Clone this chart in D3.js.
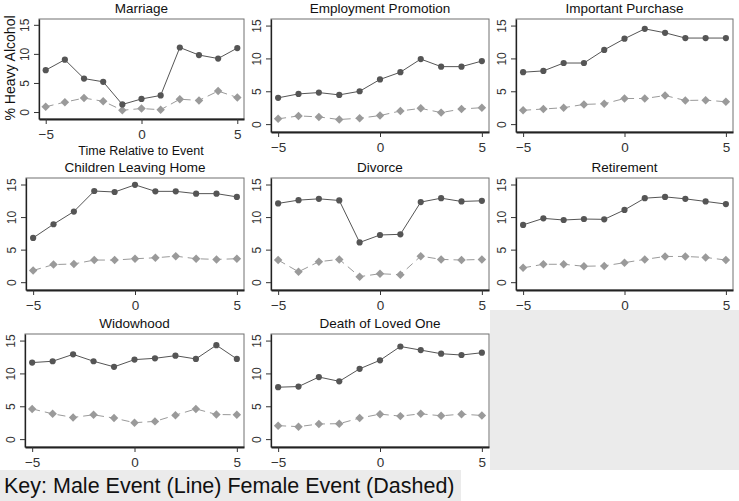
<!DOCTYPE html>
<html>
<head>
<meta charset="utf-8">
<script src="https://cdn.jsdelivr.net/npm/d3@7"></script>
<style>
  html, body { margin: 0; padding: 0; background: #ffffff; }
  svg { display: block; font-family: "Liberation Sans", Arial, sans-serif; }
</style>
</head>
<body>
<svg id="chart" width="739" height="501"></svg>
<script>
// ---- data ----
const times = [-5, -4, -3, -2, -1, 0, 1, 2, 3, 4, 5];
const xTicks = [-5, 0, 5];
const yTicks = [0, 5, 10, 15];
const panelTitles = ["Marriage", "Employment Promotion", "Important Purchase",
  "Children Leaving Home", "Divorce", "Retirement", "Widowhood", "Death of Loved One"];

const marriageMale      = [7.2, 9.0, 5.75, 5.2, 1.3, 2.25, 2.85, 11.1, 9.8, 9.2, 11.0];
const marriageFemale    = [0.9, 1.7, 2.4, 1.85, 0.3, 0.6, 0.4, 2.2, 2.0, 3.6, 2.5];
const promotionMale     = [4.0, 4.6, 4.8, 4.45, 5.0, 6.8, 7.9, 9.9, 8.75, 8.75, 9.6];
const promotionFemale   = [0.8, 1.25, 1.1, 0.7, 0.9, 1.3, 2.0, 2.4, 1.75, 2.3, 2.5];
const purchaseMale      = [7.9, 8.1, 9.3, 9.3, 11.3, 13.0, 14.5, 13.9, 13.1, 13.1, 13.1];
const purchaseFemale    = [2.1, 2.3, 2.5, 3.0, 3.1, 3.9, 3.9, 4.35, 3.6, 3.65, 3.4];
const childrenMale      = [6.8, 8.9, 10.85, 14.0, 13.85, 14.95, 13.95, 13.95, 13.6, 13.6, 13.1];
const childrenFemale    = [1.8, 2.7, 2.8, 3.4, 3.4, 3.6, 3.75, 4.0, 3.6, 3.5, 3.6];
const divorceMale       = [12.1, 12.6, 12.8, 12.55, 6.1, 7.25, 7.35, 12.3, 12.9, 12.4, 12.5];
const divorceFemale     = [3.4, 1.6, 3.15, 3.5, 0.85, 1.3, 1.15, 4.0, 3.5, 3.4, 3.5];
const retirementMale    = [8.8, 9.8, 9.55, 9.7, 9.65, 11.1, 12.9, 13.1, 12.8, 12.4, 12.0];
const retirementFemale  = [2.2, 2.75, 2.75, 2.45, 2.5, 3.0, 3.5, 3.95, 3.95, 3.8, 3.4];
const widowhoodMale     = [11.65, 11.85, 12.9, 11.85, 11.0, 12.1, 12.3, 12.7, 12.2, 14.3, 12.2];
const widowhoodFemale   = [4.6, 3.85, 3.3, 3.7, 3.2, 2.5, 2.7, 3.65, 4.6, 3.75, 3.7];
const deathMale         = [7.9, 8.0, 9.45, 8.8, 10.7, 12.0, 14.1, 13.55, 13.0, 12.8, 13.15];
const deathFemale       = [2.05, 1.9, 2.3, 2.35, 3.2, 3.8, 3.5, 3.85, 3.55, 3.8, 3.6];

const maleSeries = [marriageMale, promotionMale, purchaseMale, childrenMale,
  divorceMale, retirementMale, widowhoodMale, deathMale];
const femaleSeries = [marriageFemale, promotionFemale, purchaseFemale, childrenFemale,
  divorceFemale, retirementFemale, widowhoodFemale, deathFemale];

// ---- layout ----
const boxes = [
  {x0: 39,  x1: 244, y0: 19,  y1: 119},
  {x0: 271, x1: 489, y0: 19,  y1: 132},
  {x0: 516, x1: 733, y0: 19,  y1: 132},
  {x0: 26,  x1: 244, y0: 178, y1: 290},
  {x0: 271, x1: 489, y0: 178, y1: 290},
  {x0: 516, x1: 733, y0: 178, y1: 290},
  {x0: 25,  x1: 244, y0: 334, y1: 447},
  {x0: 271, x1: 489, y0: 334, y1: 447}
];

const svg = d3.select("#chart");
svg.append("rect").attr("x", 0).attr("y", 0).attr("width", 739).attr("height", 501).attr("fill", "#ffffff");
// empty cell and key strip
svg.append("rect").attr("x", 490).attr("y", 310).attr("width", 249).attr("height", 160).attr("fill", "#ebebeb");
svg.append("rect").attr("x", 0).attr("y", 470).attr("width", 461).attr("height", 31).attr("fill", "#ebebeb");

const maleColor = "#555555";
const femaleColor = "#9a9a9a";

boxes.forEach((b, i) => {
  const g = svg.append("g");
  const x = d3.scaleLinear().domain([-5.35, 5.35]).range([b.x0, b.x1]);
  const y = d3.scaleLinear().domain([-1.2, 16]).range([b.y1, b.y0]);

  // box
  g.append("rect").attr("x", b.x0).attr("y", b.y0)
    .attr("width", b.x1 - b.x0).attr("height", b.y1 - b.y0)
    .attr("fill", "#ffffff").attr("stroke", "#707070").attr("stroke-width", 1);

  // axes
  const yAxis = g.append("g").attr("transform", `translate(${b.x0},0)`)
    .call(d3.axisLeft(y).tickValues(yTicks).tickSize(5).tickSizeOuter(0));
  yAxis.select(".domain").attr("stroke", "#222").attr("stroke-width", 1.3);
  yAxis.selectAll(".tick line").attr("stroke", "#333");
  yAxis.selectAll("text")
    .attr("x", null).attr("dy", null)
    .attr("text-anchor", "middle")
    .attr("transform", "translate(-10,0) rotate(-90)")
    .attr("font-size", 12).attr("fill", "#333")
    .attr("font-family", "'Liberation Sans', Arial, sans-serif");

  const xAxis = g.append("g").attr("transform", `translate(0,${b.y1})`)
    .call(d3.axisBottom(x).tickValues(xTicks).tickSize(5).tickPadding(5).tickSizeOuter(0)
      .tickFormat(d3.format("d")));
  xAxis.select(".domain").attr("stroke", "#222").attr("stroke-width", 1.8);
  xAxis.selectAll(".tick line").attr("stroke", "#333");
  xAxis.selectAll("text").attr("font-size", 13.5).attr("fill", "#333")
    .attr("font-family", "'Liberation Sans', Arial, sans-serif");

  // title
  g.append("text").attr("x", (b.x0 + b.x1) / 2).attr("y", b.y0 - 6)
    .attr("text-anchor", "middle").attr("font-size", 13.5).attr("fill", "#111")
    .text(panelTitles[i]);

  const line = d3.line().x((d, j) => x(times[j])).y(d => y(d));

  // female dashed
  g.append("path").datum(femaleSeries[i]).attr("d", line)
    .attr("fill", "none").attr("stroke", femaleColor).attr("stroke-width", 1)
    .attr("stroke-dasharray", "8,5");
  g.selectAll(".fm").data(femaleSeries[i]).join("path").attr("class", "fm")
    .attr("d", d3.symbol(d3.symbolSquare, 36)())
    .attr("transform", (d, j) => `translate(${x(times[j])},${y(d)}) rotate(45)`)
    .attr("fill", femaleColor);

  // male solid
  g.append("path").datum(maleSeries[i]).attr("d", line)
    .attr("fill", "none").attr("stroke", maleColor).attr("stroke-width", 1);
  g.selectAll(".mm").data(maleSeries[i]).join("circle").attr("class", "mm")
    .attr("cx", (d, j) => x(times[j])).attr("cy", d => y(d)).attr("r", 3.1)
    .attr("fill", maleColor);
});

// axis titles
svg.append("text").attr("transform", "translate(15,68) rotate(-90)")
  .attr("text-anchor", "middle").attr("font-size", 14).attr("fill", "#111")
  .text("% Heavy Alcohol");
svg.append("text").attr("x", 141).attr("y", 155)
  .attr("text-anchor", "middle").attr("font-size", 12.5).attr("fill", "#111")
  .text("Time Relative to Event");

// key
svg.append("text").attr("x", 4).attr("y", 493)
  .attr("font-size", 21.5).attr("fill", "#111")
  .text("Key: Male Event (Line) Female Event (Dashed)");
</script>
</body>
</html>
